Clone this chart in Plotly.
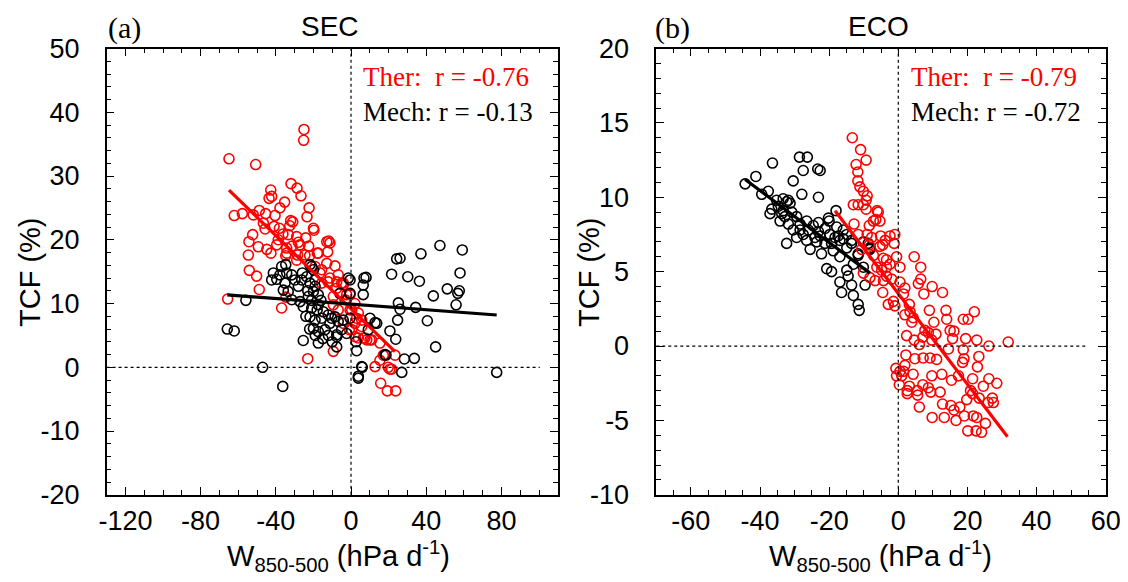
import plotly.graph_objects as go

# ---------------- SEC panel data (W850-500 in hPa/d, TCF in %) ----------------
sec_ther_w = [-25.0,-25.2,-64.9,-50.7,-31.9,-28.7,-42.7,-26.6,-43.6,-42.2,-35.3,-37.8,-22.3,-48.8,-62.1,-57.8,-52.0,-45.4,-40.4,-23.4,
              -46.6,-32.1,-31.0,-40.9,-38.1,-32.6,-19.7,-52.3,-45.7,-36.2,-33.4,-28.9,-24.1,-54.3,-12.9,-11.9,-39.5,-28.0,-49.3,-44.8,
              -42.6,-34.2,-31.4,-22.5,-17.9,-12.4,-54.6,-34.7,-28.4,-22.0,-12.9,-8.5,-54.1,-50.2,-48.8,-6.8,-7.6,-16.5,-12.1,-4.1,
              -65.6,-36.9,-34.6,-23.0,-9.4,-20.0,-17.4,-19.1,-5.0,-11.2,-15.6,-5.9,-9.4,-3.2,2.1,3.9,5.7,2.1,3.9,
              -11.2,-4.1,-0.5,0.4,3.0,5.7,6.6,11.0,15.4,8.4,17.2,23.4,12.8,19.8,20.7,15.8,19.3,23.8,
              -0.9,7.4,10.1,15.4,21.6,
              -38.7,-34.2,-27.1,-24.5,-28.9,-15.6,-7.6,-2.3,-9.4,-6.8,-0.5,2.1,-4.1,0.4]
sec_ther_tcf = [37.3,35.6,32.7,31.8,28.8,28.1,27.8,26.9,26.5,26.8,25.9,25.0,25.0,24.6,23.8,24.1,23.9,24.1,23.8,23.6,
                22.6,23.0,22.8,22.1,21.8,22.2,21.5,20.8,21.7,20.9,20.8,20.5,20.3,19.7,19.7,19.8,19.2,19.6,18.9,18.5,
                17.9,18.7,19.0,19.0,17.9,18.1,17.6,17.5,17.6,17.5,16.3,15.9,15.2,14.3,12.2,14.5,13.4,14.8,13.4,12.9,
                10.7,9.3,11.0,1.35,2.5,21.8,17.9,15.8,13.2,14.0,13.2,11.6,11.1,10.6,10.0,8.5,7.4,4.8,4.6,
                19.5,13.2,11.4,9.0,7.7,6.4,4.6,4.3,3.8,4.3,1.9,1.9,0.1,0.0,-0.3,-2.5,-3.7,-3.7,
                5.9,4.6,4.3,1.1,-0.3,
                20.0,17.9,19.2,17.6,16.8,15.3,12.4,11.4,9.8,9.0,9.0,6.9,6.9,5.9]

sec_mech_w = [-65.8,-62.1,-55.9,-47.0,-36.3,-25.4,-17.4,-7.6,2.7,3.0,6.0,3.9,10.1,13.7,9.2,-1.4,-0.5,6.5,6.5,-0.5,-5.9,
              21.6,24.3,26.1,30.2,36.4,37.2,25.2,26.1,24.8,20.7,23.8,18.1,28.4,33.7,27.0,34.4,40.6,43.8,51.2,55.9,56.8,57.6,
              58.0,45.0,77.5,59.2,47.3,18.6,8.0,12.8,-10.3,-5.0,-7.6,
              -41.3,-39.5,-36.9,-34.7,-31.5,-35.1,-33.4,-29.8,-28.0,-25.9,-23.6,-20.9,-21.8,-19.1,-20.0,-17.4,-25.4,-20.9,-17.4,
              -14.7,-21.8,-19.1,-15.6,-12.1,-8.5,-11.2,-13.8,-17.4,-20.0,-6.8,-4.1,-0.5,-2.3,-7.6,-42.2,-36.0,-31.5,-27.1,
              -37.8,-34.2,-26.2,-22.7,-19.1,3.9,5.7,-21.8,-20.0,6.9,
              -23.0,-21.0,-18.0,-24.0,-16.0,-22.0,-19.0,-15.0,-12.0,-10.0]
sec_mech_tcf = [6.0,5.7,10.5,0.0,-3.0,4.2,3.8,3.2,4.0,2.6,0.0,-1.4,7.7,6.9,5.9,14.0,13.7,12.9,11.4,11.6,11.6,
                14.6,17.0,17.1,14.2,13.5,17.8,10.1,9.1,7.4,5.7,4.4,2.0,1.3,1.4,-0.8,9.4,7.3,11.2,12.3,9.8,11.6,12.0,
                14.8,3.2,-0.8,18.4,19.1,1.9,14.1,7.0,7.7,5.9,5.1,
                14.8,13.8,15.8,16.1,14.5,13.2,11.9,13.7,12.7,14.8,14.2,15.8,13.2,12.7,11.9,11.4,9.5,9.3,9.8,
                8.7,7.9,7.4,7.7,8.2,7.9,6.9,5.9,5.6,6.1,7.2,7.4,7.7,5.3,4.8,13.7,12.1,10.6,10.3,
                14.5,14.8,13.7,11.1,13.7,-1.7,0.1,16.1,15.3,14.0,
                12.0,10.5,9.0,8.0,10.5,6.0,5.0,4.5,5.0,4.0]

# fitted lines (end points)
sec_ther_fit_w = [-64.9, 23.4]
sec_ther_fit_tcf = [27.8, 2.45]
sec_mech_fit_w = [-65.8, 77.5]
sec_mech_fit_tcf = [11.35, 8.2]

# ---------------- ECO panel data ----------------
eco_mech_w = [-44.3,-41.2,-36.4,-28.6,-26.3,-27.5,-23.3,-22.6,-30.4,-27.9,-23.1,-39.5,-37.6,-36.6,-34.7,-32.3,-31.3,-33.3,-30.8,
              -32.8,-34.2,-31.8,-29.4,-28.4,-26.5,-30.4,-29.4,-32.3,-26.0,-24.6,-23.1,-20.2,-21.2,-26.5,-24.1,-22.6,-25.5,-22.2,
              -19.8,-17.8,-16.9,-19.3,-18.8,-15.9,-14.9,-13.5,-16.9,-20.7,-19.3,-14.9,-13.0,-11.6,-10.1,-8.2,-16.9,-16.4,-13.5,
              -9.6,-13.0,-11.6,-11.3,-14.5,-35.2,-33.3,-31.8,-37.1,-33.7,-28.4,-27.5,-23.1,-23.6,-21.2,-18.3,-15.9,-18.0,-20.0,
              -17.4,-14.9,-13.5,-8.7,-8.2,-11.6,-10.1]
eco_mech_tcf = [10.9,11.4,12.3,12.7,12.7,11.8,11.9,11.8,11.1,10.2,10.0,10.2,10.4,9.2,9.4,9.7,9.6,9.1,9.0,
                8.7,8.4,8.2,8.7,8.2,8.4,7.8,7.3,6.9,7.8,8.1,8.3,8.6,7.9,7.1,7.3,7.4,6.5,6.2,
                7.5,8.0,7.1,6.9,6.4,7.8,6.6,7.1,6.0,5.2,5.0,5.1,5.5,6.1,7.0,6.6,4.3,3.6,4.1,
                4.1,3.4,2.8,2.4,4.7,9.8,9.9,9.8,8.9,8.9,7.8,7.5,7.7,7.0,6.9,7.3,7.2,9.1,8.4,
                7.4,7.5,6.9,6.9,6.5,6.2,5.3]

eco_ther_w = [-13.3,-10.9,-9.3,-12.2,-11.7,-11.7,-11.1,-10.1,-9.0,-9.3,-13.0,-11.6,-10.1,-9.3,-6.1,-6.5,-12.8,-8.4,-5.1,-11.6,
              -9.0,-2.4,-1.0,-8.4,-5.3,
              -5.8,-7.2,-7.7,-3.8,-10.6,-7.2,-4.3,-3.4,-6.2,-4.8,-10.1,-8.2,-6.7,-4.3,-3.4,-4.5,-2.9,
              -5.3,-1.2,-4.5,-0.5,4.6,-3.4,-2.4,0.5,6.5,-1.9,0.5,6.5,5.8,9.8,1.9,1.5,7.4,12.8,-1.4,-1.0,3.2,9.0,13.8,22.0,
              18.8,20.2,14.0,1.9,3.4,4.3,3.9,10.3,7.7,8.7,10.9,15.0,16.1,2.4,7.1,4.6,9.7,15.7,19.5,22.7,31.8,26.2,6.1,14.5,18.8,
              2.2,4.8,7.2,9.2,11.1,19.0,18.6,23.3,22.9,1.9,-0.7,0.5,1.5,-0.5,1.0,0.3,4.3,9.7,12.6,15.4,17.4,21.5,26.2,28.5,
              24.6,3.2,2.6,2.6,5.5,5.6,7.1,8.7,9.4,12.1,20.9,21.5,19.8,23.4,26.0,27.2,27.5,6.1,12.8,15.2,16.1,17.8,9.8,13.3,
              16.7,19.1,21.7,22.7,25.2,20.1,22.5,24.1]
eco_ther_tcf = [14.0,13.2,12.5,12.2,11.7,11.1,10.7,10.4,10.1,9.8,9.5,9.5,9.5,9.2,9.1,8.5,8.2,8.1,7.4,7.5,
                7.5,7.4,7.5,6.8,6.7,
                9.0,8.4,7.3,7.1,6.5,6.1,5.9,5.8,5.3,5.1,4.9,4.6,4.4,4.4,4.7,3.6,2.8,
                8.4,6.9,6.8,6.0,6.0,5.3,5.5,5.3,5.3,4.5,4.3,4.5,4.2,4.0,3.9,3.5,3.5,3.6,3.0,2.7,2.8,2.4,2.4,2.3,
                1.8,1.8,1.8,2.1,2.3,1.9,1.6,1.6,1.05,0.9,0.8,1.05,1.0,0.7,0.6,0.4,0.4,0.5,0.5,0.4,0.27,0.0,0.1,-0.2,-0.25,
                -0.6,-0.85,-0.8,-0.8,-0.9,-0.85,-1.1,-0.7,-1.4,-1.3,-1.5,-1.7,-1.7,-2.0,-2.0,-2.6,-1.9,-2.0,-1.9,-2.3,-2.0,-2.2,-2.2,-2.5,
                -2.7,-2.7,-3.0,-3.2,-3.0,-3.3,-2.6,-2.8,-3.1,-3.1,-3.0,-3.2,-3.6,-3.5,-3.8,-3.5,-3.8,-4.1,-3.9,-4.0,-4.3,-4.1,-4.8,-4.8,
                -5.0,-4.7,-4.7,-4.8,-5.2,-5.7,-5.7,-5.8]

eco_mech_fit_w = [-44.3, -8.2]
eco_mech_fit_tcf = [11.2, 4.9]
eco_ther_fit_w = [-18.3, 31.6]
eco_ther_fit_tcf = [9.1, -6.1]

# axis ranges and tick labels
sec_xrange = [-130, 110]
sec_yrange = [-20, 50]
eco_xrange = [-70, 60]
eco_yrange = [-10, 20]
sec_xticks = [-120, -80, -40, 0, 40, 80]
sec_yticks = [-20, -10, 0, 10, 20, 30, 40, 50]
eco_xticks = [-60, -40, -20, 0, 20, 40, 60]
eco_yticks = [-10, -5, 0, 5, 10, 15, 20]

RED = "#ff0000"
BLK = "#000000"
SANS = "Liberation Sans, Arial, sans-serif"
SERIF = "Liberation Serif, Times New Roman, serif"

# the page body adds an 8 px offset; the figure is sized to fill the rest of the window
OFF = 8
W, H = 1128 - OFF, 582 - OFF

def px(x):
    return (x - OFF) / W

def py(y):
    return 1 - (y - OFF) / H

fig = go.Figure()

def pts(x, y, color, xa, ya):
    return go.Scatter(x=x, y=y, mode="markers", xaxis=xa, yaxis=ya, showlegend=False,
                      marker=dict(symbol="circle-open", size=10, color=color, line=dict(width=1.6, color=color)))

def fit(x, y, color, xa, ya):
    return go.Scatter(x=x, y=y, mode="lines", xaxis=xa, yaxis=ya, showlegend=False,
                      line=dict(color=color, width=3.2))

# panel (a)
fig.add_trace(pts(sec_ther_w, sec_ther_tcf, RED, "x", "y"))
fig.add_trace(pts(sec_mech_w, sec_mech_tcf, BLK, "x", "y"))
fig.add_trace(fit(sec_ther_fit_w, sec_ther_fit_tcf, RED, "x", "y"))
fig.add_trace(fit(sec_mech_fit_w, sec_mech_fit_tcf, BLK, "x", "y"))
# panel (b)
fig.add_trace(pts(eco_mech_w, eco_mech_tcf, BLK, "x2", "y2"))
fig.add_trace(pts(eco_ther_w, eco_ther_tcf, RED, "x2", "y2"))
fig.add_trace(fit(eco_mech_fit_w, eco_mech_fit_tcf, BLK, "x2", "y2"))
fig.add_trace(fit(eco_ther_fit_w, eco_ther_fit_tcf, RED, "x2", "y2"))

ydom = [py(494.8), py(48.5)]
xdom_a = [px(106.6), px(557.8)]
xdom_b = [px(656.3), px(1105.7)]

def ax(dom, rng, ticks, mdt, anchor, standoff):
    return dict(domain=dom, range=rng, tickmode="array", tickvals=ticks, ticktext=[str(t) for t in ticks],
                anchor=anchor, automargin=False,
                showgrid=False, zeroline=False, showline=True, linecolor="black", linewidth=1.5,
                mirror="ticks", ticks="inside", ticklen=8, tickwidth=1, tickcolor="black",
                minor=dict(tickmode="linear", dtick=mdt, tick0=0, ticks="inside", ticklen=5, tickwidth=1,
                           tickcolor="black", showgrid=False),
                tickfont=dict(family=SANS, size=27, color="black"), ticklabelstandoff=standoff)

fig.update_layout(
    width=W, height=H, autosize=False,
    margin=dict(l=0, r=0, t=0, b=0, pad=0, autoexpand=False),
    paper_bgcolor="white", plot_bgcolor="white",
    xaxis=ax(xdom_a, sec_xrange, sec_xticks, 10, "y", 1),
    yaxis=ax(ydom, sec_yrange, sec_yticks, 2, "x", 20),
    xaxis2=ax(xdom_b, eco_xrange, eco_xticks, 5, "y2", 1),
    yaxis2=ax(ydom, eco_yrange, eco_yticks, 1, "x2", 20),
)

# dotted zero lines
for xr, yr in (("x", "y"), ("x2", "y2")):
    fig.add_shape(type="line", xref=xr, yref=yr + " domain", x0=0, x1=0, y0=0, y1=1,
                  line=dict(color="black", width=1.2, dash="dot"))
    fig.add_shape(type="line", xref=xr + " domain", yref=yr, x0=0, x1=0.96, y0=0, y1=0,
                  line=dict(color="black", width=1.2, dash="dot"))

def ann(text, x, y, font, size, color="black", xanchor="left", textangle=0):
    fig.add_annotation(text=text, x=px(x), y=py(y), xref="paper", yref="paper",
                       xanchor=xanchor, yanchor="middle", showarrow=False, textangle=textangle,
                       font=dict(family=font, size=size, color=color))

nb = "\u00a0"
ann("Ther:" + nb + nb + "r = -0.76", 361, 77, SERIF, 27, RED)
ann("Mech: r = -0.13", 361, 112, SERIF, 27)
ann("Ther:" + nb + nb + "r = -0.79", 909, 77, SERIF, 27, RED)
ann("Mech: r = -0.72", 909, 112, SERIF, 27)

ann("(a)", 106, 28, SERIF, 30)
ann("(b)", 653, 28, SERIF, 30)
ann("SEC", 330, 27, SANS, 28, xanchor="center")
ann("ECO", 878, 27, SANS, 28, xanchor="center")

ann("TCF (%)", 30, 272, SANS, 29, xanchor="center", textangle=-90)
ann("TCF (%)", 589, 272, SANS, 29, xanchor="center", textangle=-90)
ann("W<sub>850-500</sub> (hPa d<sup>-1</sup>)", 338, 556, SANS, 29, xanchor="center")
ann("W<sub>850-500</sub> (hPa d<sup>-1</sup>)", 880, 556, SANS, 29, xanchor="center")

fig.write_html("out.html")
